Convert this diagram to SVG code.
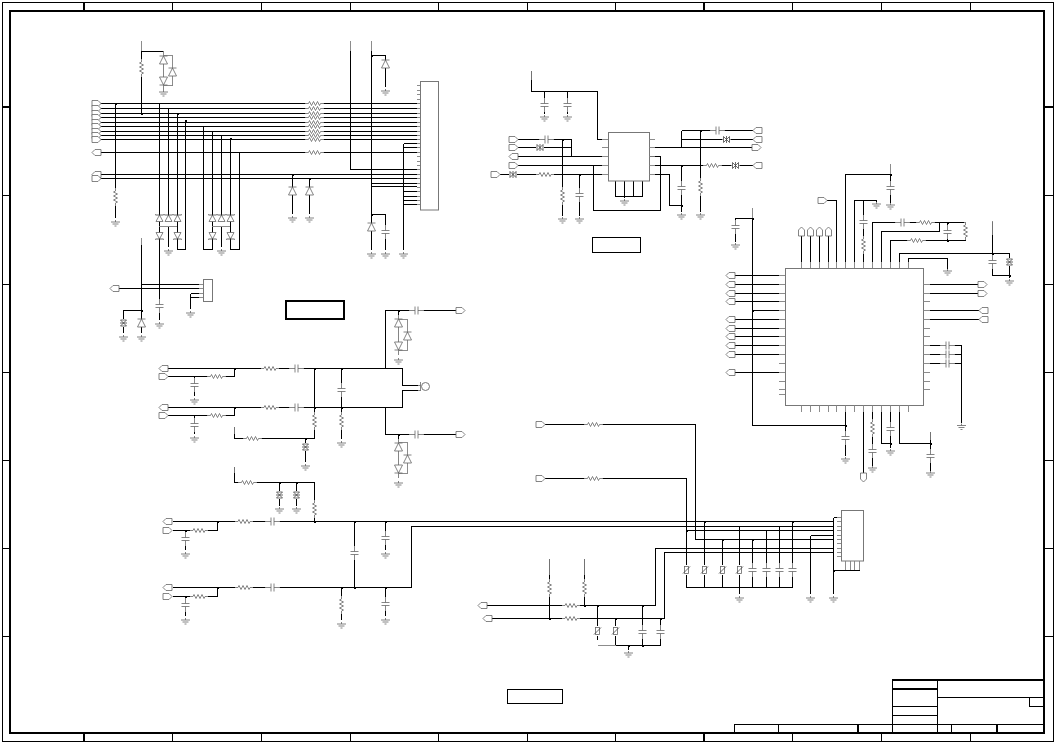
<svg xmlns="http://www.w3.org/2000/svg" width="1056" height="750" viewBox="0 0 1056 750">
<style>
.w{fill:none;stroke:#000;stroke-width:1;shape-rendering:crispEdges}
.f{fill:none;stroke:#000;shape-rendering:crispEdges}
.c{fill:none;stroke:#666;stroke-width:.8}
.b{fill:#fff;stroke:#777;stroke-width:1}
.s{fill:#fff;stroke:#666;stroke-width:.8;stroke-linejoin:miter}
.k{fill:none;stroke:#444;stroke-width:.8}
.n{fill:#fff;stroke:none}
.g{fill:none;stroke:#808080;stroke-width:.9;shape-rendering:crispEdges}
.j{fill:none;stroke:#000;stroke-width:2;stroke-linecap:square;shape-rendering:crispEdges}
</style>
<defs>
<g id="rh"><rect class="n" x="-9" y="-1" width="18" height="2"/><path class="c" d="M-9 0H-6L-5-2L-3 2L-1-2L1 2L3-2L5 2L6 0H9"/></g>
<g id="rv"><rect class="n" x="-1" y="-9" width="2" height="18"/><path class="c" d="M0-9V-6L-2-5L2-3L-2-1L2 1L-2 3L2 5L0 6V9"/></g>
<g id="ch"><rect class="n" x="-7" y="-1" width="14" height="2"/><path class="c" d="M-7 0H-1.500M1.500 0H7M-1.500-4V4M1.500-4V4"/></g>
<g id="cv"><rect class="n" x="-1" y="-7" width="2" height="14"/><path class="c" d="M0-7V-1.500M0 1.500V7M-4-1.500H4M-4 1.500H4"/></g>
<g id="gn"><path class="c" d="M0-2V0M-4.500 0H4.500M-3 2H3M-1 4H1"/></g>
<g id="du"><path class="s" d="M-4 4H4L0-4Z"/><path class="c" d="M-4-4H4"/></g>
<g id="dd"><path class="s" d="M-4-4H4L0 4Z"/><path class="c" d="M-4 4H4"/></g>
<g id="zu"><path class="s" d="M-3.500 3.500H3.500L0-3Z"/><path class="k" d="M-4.500-3.500L-3.500-3H3.500L4.500-3.500"/></g>
<g id="zd"><path class="s" d="M-3.500-3.500H3.500L0 3Z"/><path class="k" d="M-4.500 3.500L-3.500 3H3.500L4.500 3.500"/></g>
<g id="tv"><rect class="n" x="-3.500" y="-4" width="7" height="8"/><path class="k" d="M-3-3H3L-3 3H3ZM-3.500 0H3.500"/></g>
<g id="th"><rect class="n" x="-4" y="-3.500" width="8" height="7"/><path class="k" d="M-3-3V3L3-3V3ZM0-3.500V3.500"/></g>
<g id="va"><rect class="n" x="-3" y="-5" width="6" height="10"/><rect class="s" x="-2" y="-3.500" width="4" height="7"/><path class="k" d="M-3.500 3.500L3.500-3.500"/></g>
<path id="pr" class="s" d="M0-3H6L9 0L6 3H0Z"/>
<path id="pl" class="s" d="M9-3H3L0 0L3 3H9Z"/>
<path id="pu" class="s" d="M-3 9V3L0 0L3 3V9Z"/>
<path id="pd" class="s" d="M-3 0V6L0 9L3 6V0Z"/>
</defs>
<g id="sheet-frame">
<rect class="f" x="2.500" y="2.500" width="1050.500" height="739" stroke-width="1"/>
<rect class="f" x="9.500" y="11" width="1034.500" height="722" stroke-width="2"/>
<path class="f" stroke-width="1" d="M172.500 2V11M261.500 2V11M350.500 2V11M438.500 2V11M527.500 2V11M615.500 2V11M792.500 2V11M881.500 2V11M970.500 2V11M172.500 733V742M261.500 733V742M350.500 733V742M438.500 733V742M527.500 733V742M615.500 733V742M792.500 733V742M881.500 733V742M970.500 733V742M2 195.500H9M2 284.500H9M2 372.500H9M2 460.500H9M2 548.500H9M2 636.500H9M1044 195.500H1053M1044 284.500H1053M1044 372.500H1053M1044 460.500H1053M1044 548.500H1053M1044 636.500H1053"/>
<path class="f" stroke-width="2" d="M84 2V11M704 2V11M84 733V742M704 733V742M2 107H9M1044 107H1053"/>
</g>
<g id="title-block">
<path class="f" stroke-width="2" d="M892 680H1044M892 689H937M734 733H1044"/>
<path class="f" stroke-width="1" d="M892.500 680V733M937.500 680V733M937 697.500H1044M1029.500 697.500V706.500H1044M892 706.500H937M892 715.500H937M734 724.500H1044M734.500 724.500V733M778.500 724.500V733M951.500 724.500V733"/>
<path class="f" stroke-width="2" d="M858 724V733M997 724V733"/>
</g>
<g id="connectors">
<path class="w" d="M100 103.500H417M100 108.500H417M100 113.500H417M100 117.500H417M100 122.500H417M100 126.500H417M100 131.500H417M100 135.500H417M100 139.500H417M101 152.500H417M100 174.500H417M100 178.500H417
M141.500 51V113.500M141.500 51.500H163.500M115.500 104V218M159.500 103.500V307M168.500 108.500V218M168.500 227V247M177.500 113.500V249.500M185.500 120.500V249.500H177.500M203.500 126V249.500H212.500V130.500M221.500 135V218M221.500 227V247M230.500 139V249.500H239.500V152.500M292.500 174.500V214M309.500 178.500V214
M350.500 51V169.500H417M371.500 51V250M371.500 55.500H385.500V87M371.500 183.500H417M371.500 186.500H417M371.500 214.500H385.500V250M403.500 143.500V250M403.500 143.500H417M403.500 147.500H417M403.500 191.500H417M403.500 196.500H417M403.500 200.500H417M403.500 204.500H417
M119 288.500H199M141.500 245V310.500H123.500V333M141.500 284.500H199M141.500 310.500V333M159.500 307V320M190.500 293.500V309M190.500 293.500H199M190.500 297.500H199
M168 368.500H402.500V385.500H418M168 407.500H402.500V390.500H418M168 376.500H208M225 376.500H234.500V368.500M168 415.500H208M225 415.500H234.500V407.500M194.500 376.500V396M194.500 415.500V434M314.500 368.500V438.500H234.500V427M305.500 438.500V462M341.500 368.500V439M385.500 368.500V310.500H456M385.500 407.500V434.500H456M398.500 310.500V315M398.500 434.500V439
M234.500 467V482.500H314.500V521M279.500 482.500V506M296.500 482.500V506
M173 521.500H833M173 530.500H190M208 530.500H217.500V521.500M185.500 530.500V550M354.500 521.500V587.500M385.500 521.500V550M173 587.500H411.500V526.500H833M173 596.500H190M208 596.500H217.500V587.500M185.500 596.500V616M341.500 587.500V620M385.500 587.500V616
M545 424.500H695.500V539.500H833M545 478.500H686.500V587.500H792.500M686.500 530.500H833M704.500 521.500V587.500M722.500 539.500V587.500M739.500 525.500V594M752.500 539.500V587.500M766.500 530.500V587.500M779.500 525.500V587.500M792.500 521.500V587.500M810.500 535.500V594M810.500 535.500H833M833.500 517.500V594M833.500 517.500H837M833.500 570.500H859.500M655.500 605.500V548.500H833M664.500 618.500V552.500H833
M487 605.500H655.500M492 618.500H664.500M549.500 559V618.500M584.500 559V605.500M597.500 605.500V640M615.500 618.500V645M642.500 605.500V645M660.500 618.500V645.500H615.500M628.500 645V650
M531.500 71V91.500H597.500V139.500H602M518 139.500H571.500V156.500M518 147.500H571.500M518 156.500H602M518 165.500H602M500 174.500H602M562.500 139.500V216M579.500 174.500V216M593.500 165.500V210.500H660.500V156.500H646M544.500 91V114M567.500 91V114M615.500 196.500V181M624.500 181V198M633.500 181V196.500M642.500 181V196.500M615.500 196.500H642.500
M655 147.500H752M655 165.500H753M681.500 130.500H753M681.500 139.500H753M681.500 130.500V147.500M700.500 130.500V212M681.500 165.500V212M655 174.500H669.500V205.500H681.500
M735 275.500H779M735 284.500H779M735 293.500H779M735 301.500H779M735 319.500H779M735 328.500H779M735 336.500H779M735 345.500H779M735 354.500H779M735 372.500H779M752.500 218.500V425.500H845.500M752.500 310.500H779M735 218.500H752.500M735 218.500V242
M801.500 236V262M810.500 236V262M819.500 236V262M828.500 236V262M827 200.500H836.500V262M845.500 262V174.500H890.500V203M854.500 262V200.500H876.500V202M863.500 200.500V262M872.500 262V222.500H965.500V240.500H890.500V262M881.500 262V231.500H939.500V222.500M947.500 222.500V240.500M899.500 262V253.500H1009.500V278M992.500 222V275.500H1009.500M908.500 262V258.500H947.500V269
M930 284.500H978M930 293.500H978M930 310.500H979M930 319.500H979M930 345.500H961.500M930 354.500H961.500M930 363.500H961.500M961.500 345.500V423M845.500 412V456M863.500 412V473M872.500 412V466M881.500 412V443.500H890.500M890.500 412V448M899.500 412V443.500H930.500M930.500 432V471"/>
<path class="g" d="M141.500 41V51M350.500 41V51M371.500 41V51M141.500 238V245M531.500 71V80M752.500 208V218M890.500 164V174M992.500 221V235M930.500 432V440M234.500 427V434M234.500 467V473M549.500 559V575M584.500 559V575M163.500 51V55M163.500 55.500H172.500V85.500H163.500M398.500 319.500H407.500V350H398.500M398.500 442.500H407.500V473H398.500M597.500 645.500H615.500M159 226.500H177M212 226.500H230"/>
<path class="j" d="M141.500 113.500h0M115.500 104h0M177.500 113.500h0M185.500 120.500h0M230.500 139h0M292.500 174.500h0M309.500 178.500h0M371.500 55.500h0M371.500 214.500h0M141.500 310.500h0M234.500 368.500h0M234.500 407.500h0M314.500 368.500h0M341.500 368.500h0M341.500 407.500h0M314.500 407.500h0M305.500 438.500h0M398.500 310.500h0M398.500 434.500h0M217.500 521.500h0M185.500 530.500h0M217.500 587.500h0M185.500 596.500h0M314.500 521.500h0M354.500 521.500h0M354.500 587.500h0M341.500 587.500h0M385.500 521.500h0M385.500 587.500h0M279.500 482.500h0M296.500 482.500h0M686.500 530.500h0M704.500 521.500h0M722.500 539.500h0M752.500 539.500h0M792.500 521.500h0M549.500 618.500h0M584.500 605.500h0M597.500 605.500h0M642.500 605.500h0M615.500 618.500h0M660.500 618.500h0M642.500 645.500h0M628.500 645.500h0M562.500 139.500h0M579.500 174.500h0M700.500 130.500h0M681.500 165.500h0M681.500 205.500h0M845.500 425.500h0M890.500 443.500h0M930.500 443.500h0M890.500 174.500h0M992.500 253.500h0M1009.500 275.500h0M947.500 222.500h0M947.500 240.500h0M752.500 218.500h0M752.500 310.500h0M833.500 570.500h0"/>
</g>
<g id="connector-J1">
<rect class="b" x="420.500" y="81.500" width="18" height="128.500"/>
<path class="g" d="M416.500 85.500H420M416.500 90H420M416.500 94.500H420M416.500 99H420M416.500 103.500H420M416.500 108.500H420M416.500 113.500H420M416.500 117.500H420M416.500 122.500H420M416.500 126.500H420M416.500 131.500H420M416.500 135.500H420M416.500 139.500H420M416.500 143.500H420M416.500 147.500H420M416.500 152.500H420M416.500 156.500H420M416.500 161H420M416.500 165.500H420M416.500 169.500H420M416.500 174.500H420M416.500 178.500H420M416.500 183.500H420M416.500 187.500H420M416.500 191.500H420M416.500 196.500H420M416.500 200.500H420M416.500 204.500H420"/>
</g>
<g id="connector-J2">
<rect class="b" x="203.500" y="279.500" width="9" height="22"/>
<path class="g" d="M199 284.500H203M199 288.500H203M199 293.500H203M199 297.500H203"/>
</g>
<g id="connector-J3">
<rect class="b" x="841.500" y="510.500" width="22" height="50.500"/>
<path class="g" d="M837 517.500H841M837 521.500H841M837 526.500H841M837 530.500H841M837 535.500H841M837 539.500H841M837 543.500H841M837 548.500H841M837 552.500H841M837 556.500H841M845.500 561V570M850.500 561V570M854.500 561V570M859.500 561V570"/>
</g>
<g id="ic-U1">
<rect class="b" x="608.500" y="132.500" width="41" height="48.500"/>
<path class="g" d="M602 139.500H608M602 147.500H608M602 156.500H608M602 165.500H608M602 174.500H608M649 139.500H655M649 147.500H655M649 156.500H655M649 165.500H655M649 174.500H655"/>
</g>
<g id="ic-U2">
<rect class="b" x="785.500" y="268.500" width="138" height="137"/>
<path class="g" d="M779 275.500H785M779 284.500H785M779 293.500H785M779 301.500H785M779 310.500H785M779 319.500H785M779 328.500H785M779 336.500H785M779 345.500H785M779 354.500H785M779 363.500H785M779 372.500H785M779 381.500H785M779 389.500H785M779 394.500H785
M923 284.500H930M923 293.500H930M923 301.500H930M923 310.500H930M923 319.500H930M923 328.500H930M923 336.500H930M923 345.500H930M923 354.500H930M923 363.500H930M923 372.500H930M923 381.500H930M923 389.500H930
M801.500 262V268M810.500 262V268M819.500 262V268M828.500 262V268M836.500 262V268M845.500 262V268M854.500 262V268M863.500 262V268M872.500 262V268M881.500 262V268M890.500 262V268M899.500 262V268M908.500 262V268
M801.500 405V412M810.500 405V412M819.500 405V412M828.500 405V412M836.500 405V412M845.500 405V412M854.500 405V412M863.500 405V412M872.500 405V412M881.500 405V412M890.500 405V412M899.500 405V412M908.500 405V412"/>
</g>
<g id="jack">
<circle class="b" cx="425.500" cy="386.500" r="4"/>
<path class="c" d="M418 385.500H420.500M418 390.500H420.500M420.500 382V391"/>
</g>
<g id="label-boxes">
<rect x="286" y="301" width="58" height="18" fill="#fff" stroke="#000" stroke-width="2"/>
<rect x="592.500" y="237.500" width="48" height="15" class="f"/>
<rect x="507.500" y="689.500" width="55" height="14" class="f"/>
</g>
<g id="components-top-left">
<use href="#rv" x="141.500" y="68"/><use href="#du" x="163.500" y="60"/><use href="#dd" x="163.500" y="81"/><use href="#du" x="172.500" y="72"/><use href="#gn" x="163.500" y="92"/>
<path class="c" d="M163.500 55V56M163.500 64V77M163.500 85V90"/>
<use href="#rv" x="115.500" y="197"/><use href="#gn" x="115.500" y="222"/>
<use href="#rh" x="314.500" y="103.500"/><use href="#rh" x="314.500" y="108.500"/><use href="#rh" x="314.500" y="113.500"/><use href="#rh" x="314.500" y="117.500"/><use href="#rh" x="314.500" y="122.500"/><use href="#rh" x="314.500" y="126.500"/><use href="#rh" x="314.500" y="131.500"/><use href="#rh" x="314.500" y="135.500"/><use href="#rh" x="314.500" y="139.500"/><use href="#rh" x="314.500" y="152.500"/>
<use href="#zu" x="159.500" y="218"/><use href="#zu" x="168.500" y="218"/><use href="#zu" x="177.500" y="218"/><use href="#zd" x="159.500" y="236"/><use href="#zd" x="177.500" y="236"/><use href="#gn" x="168.500" y="251"/>
<use href="#zu" x="212.500" y="218"/><use href="#zu" x="221.500" y="218"/><use href="#zu" x="230.500" y="218"/><use href="#zd" x="212.500" y="236"/><use href="#zd" x="230.500" y="236"/><use href="#gn" x="221.500" y="251"/>
<use href="#du" x="292.500" y="191"/><use href="#gn" x="292.500" y="218"/><use href="#du" x="309.500" y="191"/><use href="#gn" x="309.500" y="218"/>
<use href="#du" x="385.500" y="64"/><use href="#gn" x="385.500" y="91"/><use href="#du" x="371.500" y="227"/><use href="#cv" x="385.500" y="232"/><use href="#gn" x="371.500" y="254"/><use href="#gn" x="385.500" y="254"/><use href="#gn" x="403.500" y="254"/>
<use href="#pr" x="92" y="103.500"/><use href="#pr" x="92" y="108.500"/><use href="#pr" x="92" y="113.500"/><use href="#pr" x="92" y="117.500"/><use href="#pr" x="92" y="122.500"/><use href="#pr" x="92" y="126.500"/><use href="#pr" x="92" y="131.500"/><use href="#pr" x="92" y="135.500"/><use href="#pr" x="92" y="139.500"/><use href="#pl" x="92" y="152.500"/><use href="#pl" x="92" y="174.500"/><use href="#pr" x="92" y="178.500"/>
</g>
<g id="components-left">
<use href="#pl" x="110" y="288.500"/><use href="#tv" x="123.500" y="323"/><use href="#gn" x="123.500" y="337"/><use href="#du" x="141.500" y="323"/><use href="#gn" x="141.500" y="337"/><use href="#cv" x="159.500" y="306"/><use href="#gn" x="159.500" y="324"/><use href="#gn" x="190.500" y="313"/>
</g>
<g id="components-audio">
<use href="#pl" x="159" y="368.500"/><use href="#pr" x="159" y="376.500"/><use href="#pl" x="159" y="407.500"/><use href="#pr" x="159" y="415.500"/>
<use href="#rh" x="216.500" y="376.500"/><use href="#rh" x="216.500" y="415.500"/><use href="#rh" x="270" y="368.500"/><use href="#ch" x="296.500" y="368.500"/><use href="#rh" x="270" y="407.500"/><use href="#ch" x="296.500" y="407.500"/>
<use href="#cv" x="194.500" y="385"/><use href="#gn" x="194.500" y="400"/><use href="#cv" x="194.500" y="425"/><use href="#gn" x="194.500" y="438"/>
<use href="#rv" x="314.500" y="421"/><use href="#rh" x="252.500" y="438.500"/><use href="#tv" x="305.500" y="447"/><use href="#gn" x="305.500" y="466"/><use href="#cv" x="341.500" y="390"/><use href="#rv" x="341.500" y="421"/><use href="#gn" x="341.500" y="443"/>
<use href="#ch" x="416.500" y="310.500"/><use href="#pr" x="456" y="310.500"/><use href="#ch" x="416.500" y="434.500"/><use href="#pr" x="456" y="434.500"/>
<path class="c" d="M398.500 315V355M398.500 439V478"/>
<use href="#du" x="398.500" y="323"/><use href="#dd" x="398.500" y="346"/><use href="#du" x="407.500" y="336"/><use href="#gn" x="398.500" y="360"/>
<use href="#du" x="398.500" y="447"/><use href="#dd" x="398.500" y="469"/><use href="#du" x="407.500" y="459"/><use href="#gn" x="398.500" y="483"/>
</g>
<g id="components-lower-left">
<use href="#rh" x="247.500" y="482.500"/><use href="#tv" x="279.500" y="495"/><use href="#tv" x="296.500" y="495"/><use href="#gn" x="279.500" y="509"/><use href="#gn" x="296.500" y="509"/><use href="#rv" x="314.500" y="509"/>
<use href="#pl" x="163" y="521.500"/><use href="#pr" x="163" y="530.500"/><use href="#pl" x="163" y="587.500"/><use href="#pr" x="163" y="596.500"/>
<use href="#rh" x="199" y="530.500"/><use href="#rh" x="199" y="596.500"/><use href="#rh" x="244" y="521.500"/><use href="#ch" x="272.500" y="521.500"/><use href="#rh" x="244" y="587.500"/><use href="#ch" x="272.500" y="587.500"/>
<use href="#cv" x="185.500" y="539"/><use href="#gn" x="185.500" y="554"/><use href="#cv" x="185.500" y="605"/><use href="#gn" x="185.500" y="620"/>
<use href="#cv" x="354.500" y="553"/><use href="#cv" x="385.500" y="538"/><use href="#gn" x="385.500" y="554"/><use href="#cv" x="385.500" y="604"/><use href="#gn" x="385.500" y="620"/><use href="#rv" x="341.500" y="605"/><use href="#gn" x="341.500" y="624"/>
</g>
<g id="components-bottom">
<use href="#pr" x="536" y="424.500"/><use href="#pr" x="536" y="478.500"/><use href="#rh" x="593.500" y="424.500"/><use href="#rh" x="593.500" y="478.500"/>
<use href="#va" x="686.500" y="570"/><use href="#va" x="704.500" y="570"/><use href="#va" x="722.500" y="570"/><use href="#va" x="739.500" y="570"/><use href="#cv" x="752.500" y="570"/><use href="#cv" x="766.500" y="570"/><use href="#cv" x="779.500" y="570"/><use href="#cv" x="792.500" y="570"/>
<use href="#gn" x="739.500" y="598"/><use href="#gn" x="810.500" y="598"/><use href="#gn" x="833.500" y="598"/>
<use href="#pl" x="478" y="605.500"/><use href="#pl" x="483" y="618.500"/><use href="#rh" x="571" y="605.500"/><use href="#rh" x="571" y="618.500"/><use href="#rv" x="549.500" y="588"/><use href="#rv" x="584.500" y="588"/>
<use href="#va" x="597.500" y="631"/><use href="#va" x="615.500" y="631"/><use href="#cv" x="642.500" y="632"/><use href="#cv" x="660.500" y="632"/><use href="#gn" x="628.500" y="653"/>
</g>
<g id="components-u1">
<use href="#cv" x="544.500" y="105"/><use href="#cv" x="567.500" y="105"/><use href="#gn" x="544.500" y="117"/><use href="#gn" x="567.500" y="117"/>
<use href="#pr" x="509" y="139.500"/><use href="#pr" x="509" y="147.500"/><use href="#pl" x="509" y="156.500"/><use href="#pr" x="509" y="165.500"/><use href="#pr" x="491" y="174.500"/>
<use href="#ch" x="546.500" y="139.500"/><use href="#th" x="540" y="147.500"/><use href="#th" x="513" y="174.500"/><use href="#rh" x="545" y="174.500"/>
<use href="#rv" x="562.500" y="196"/><use href="#cv" x="579.500" y="195"/><use href="#gn" x="562.500" y="219"/><use href="#gn" x="579.500" y="219"/><use href="#gn" x="624.500" y="201"/>
<use href="#ch" x="717.500" y="130.500"/><use href="#th" x="726.500" y="139.500"/><use href="#rh" x="712.500" y="165.500"/><use href="#th" x="735.500" y="165.500"/>
<use href="#pl" x="753" y="130.500"/><use href="#pl" x="753" y="139.500"/><use href="#pr" x="752" y="147.500"/><use href="#pl" x="753" y="165.500"/>
<use href="#cv" x="681.500" y="188"/><use href="#rv" x="700.500" y="187"/><use href="#gn" x="681.500" y="215"/><use href="#gn" x="700.500" y="215"/>
</g>
<g id="components-u2">
<use href="#pl" x="726" y="275.500"/><use href="#pl" x="726" y="284.500"/><use href="#pl" x="726" y="293.500"/><use href="#pl" x="726" y="301.500"/><use href="#pl" x="726" y="319.500"/><use href="#pl" x="726" y="328.500"/><use href="#pl" x="726" y="336.500"/><use href="#pl" x="726" y="345.500"/><use href="#pl" x="726" y="354.500"/><use href="#pl" x="726" y="372.500"/>
<use href="#cv" x="735.500" y="227"/><use href="#gn" x="735.500" y="245"/>
<use href="#pu" x="801.500" y="227"/><use href="#pu" x="810.500" y="227"/><use href="#pu" x="819.500" y="227"/><use href="#pu" x="828.500" y="227"/><use href="#pr" x="818" y="200.500"/>
<use href="#cv" x="890.500" y="188"/><use href="#gn" x="890.500" y="205"/><use href="#gn" x="876.500" y="204"/><use href="#cv" x="863.500" y="222"/><use href="#rv" x="863.500" y="245"/>
<use href="#ch" x="902.500" y="222.500"/><use href="#rh" x="925.500" y="222.500"/><use href="#cv" x="947.500" y="232"/><use href="#rv" x="965.500" y="231"/><use href="#rh" x="916.500" y="240.500"/>
<use href="#cv" x="992.500" y="262"/><use href="#tv" x="1009.500" y="262"/><use href="#gn" x="1009.500" y="281"/><use href="#gn" x="947.500" y="271"/>
<use href="#pr" x="978" y="284.500"/><use href="#pr" x="978" y="293.500"/><use href="#pl" x="979" y="310.500"/><use href="#pl" x="979" y="319.500"/>
<use href="#ch" x="947.500" y="345.500"/><use href="#ch" x="947.500" y="354.500"/><use href="#ch" x="947.500" y="363.500"/><use href="#gn" x="961.500" y="425.500"/>
<use href="#cv" x="845.500" y="438"/><use href="#gn" x="845.500" y="459"/><use href="#pd" x="863.500" y="473"/><use href="#rv" x="872.500" y="428"/><use href="#cv" x="872.500" y="451"/><use href="#gn" x="872.500" y="468"/><use href="#cv" x="890.500" y="429"/><use href="#gn" x="890.500" y="451"/><use href="#cv" x="930.500" y="456"/><use href="#gn" x="930.500" y="473"/>
</g>
</svg>
